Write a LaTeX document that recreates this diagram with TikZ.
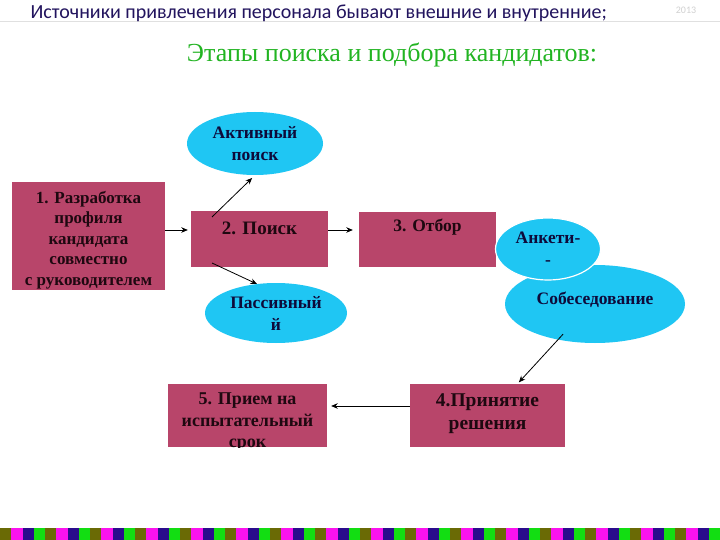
\documentclass[tikz,border=0pt]{standalone}
\usepackage{fontspec}
\setmainfont{Liberation Serif}
\newfontfamily\headfont{Carlito}
\usetikzlibrary{arrows.meta,positioning,shapes.geometric}
\definecolor{cbox}{HTML}{B8456A}
\definecolor{cell}{HTML}{1FC6F3}
\definecolor{ctxt}{HTML}{1E0810}
\definecolor{cnavy}{HTML}{0E0A3A}
\definecolor{chead}{HTML}{22145E}
\definecolor{cgreen}{HTML}{22B422}
\definecolor{sa}{HTML}{6A6A05}
\definecolor{sb}{HTML}{FA12EE}
\definecolor{sc}{HTML}{2A0C8C}
\definecolor{sd}{HTML}{12DE12}
\begin{document}
\begin{tikzpicture}[x=1pt,y=-1pt,>={Stealth[length=6.5pt,width=5.5pt]},
    box/.style={rectangle,fill=cbox,text=ctxt,inner sep=2pt,align=center,
      font=\bfseries\fontsize{17.5}{21}\selectfont},
    boxtext/.style={text=ctxt,inner sep=0pt,align=center},
    oval/.style={ellipse,fill=cell,text=cnavy,inner sep=0pt,align=center,
      font=\bfseries\fontsize{17.5}{22}\selectfont},
    link/.style={->,line width=0.8pt},
  ]
  \useasboundingbox (0,0) rectangle (720,540);
  \fill[white] (0,0) rectangle (720,540);

  % header
  \draw[black!12,line width=0.7pt] (0,21) -- (720,21);
  \node[anchor=west,text=chead,font=\headfont\fontsize{20}{22}\selectfont] (head) at (27,13) {Источники привлечения персонала бывают внешние и внутренние;};
  \node[text=black!18,font=\headfont\fontsize{10}{12}\selectfont] (year) at (686,10) {2013};
  \node[text=cgreen,font=\fontsize{26}{30}\selectfont] (title) at (392,55) {Этапы поиска и подбора кандидатов:};

  % boxes
  \node[box,minimum width=153pt,minimum height=108pt] (profile) at (88.5,236) {};
  \node[boxtext,font=\bfseries\fontsize{17}{20.5}\selectfont] (profiletext) at ([yshift=-4pt]profile.center) {1. Разработка\\профиля\\кандидата\\совместно\\с руководителем};
  \node[box,minimum width=137pt,minimum height=56pt,text height=13pt,text depth=23pt,font=\bfseries\fontsize{19}{21}\selectfont] (search) at (259.5,239) {2. Поиск};
  \node[box,minimum width=137pt,minimum height=55pt,text height=12pt,text depth=27pt] (select) at (427.5,239.5) {3. Отбор};
  \node[box,minimum width=155pt,minimum height=63pt] (decide) at (487.5,415.5) {};
  \node[boxtext,font=\bfseries\fontsize{19.5}{23}\selectfont] (decidetext) at ([yshift=2pt]decide.center) {4.Принятие\\решения};
  \node[box,minimum width=159pt,minimum height=63pt] (trial) at (247.5,415.5) {};
  \begin{scope}
    \clip (168,384) rectangle (327,447);
    \node[boxtext,font=\bfseries\fontsize{18}{21.5}\selectfont] (trialtext) at ([yshift=-7pt]trial.center) {5. Прием на\\испытательный\\срок};
  \end{scope}

  % ellipses
  \node[oval,minimum width=136pt,minimum height=63pt] (active) at (255,143.5) {Активный\\поиск};
  \node[oval,minimum width=142pt,minimum height=60pt] (passive) at (276,313) {Пассивный\\й};
  \node[oval,minimum width=180pt,minimum height=78pt,text depth=12pt] (talk) at (595,304) {Собеседование};
  \node[oval,draw=white,line width=1.2pt,minimum width=105pt,minimum height=62pt] (form) at (548,249) {Анкети-\\-};

  % arrows
  \draw[link,shorten >=3pt] (profile.east |- 0,230) -- (search.west |- 0,230);
  \draw[link,shorten >=6pt] (search.east |- 0,230) -- (select.west |- 0,230);
  \draw[link,shorten >=4pt] (212,217) -- (active.south);
  \draw[link] (212,263) -- (257,284);
  \draw[link,shorten >=2pt] ([xshift=-32pt,yshift=9pt]talk.south) -- ([xshift=30pt]decide.north);
  \draw[link,shorten >=4pt] (decide.west |- 0,406) -- (trial.east |- 0,406);

  % bottom stripe
  \foreach \i in {0,...,15} {
    \fill[sa] (45*\i,528) rectangle ++(11.25,12);
    \fill[sb] (45*\i+11.25,528) rectangle ++(11.25,12);
    \fill[sc] (45*\i+22.5,528) rectangle ++(11.25,12);
    \fill[sd] (45*\i+33.75,528) rectangle ++(11.25,12);
  }
\end{tikzpicture}
\end{document}
